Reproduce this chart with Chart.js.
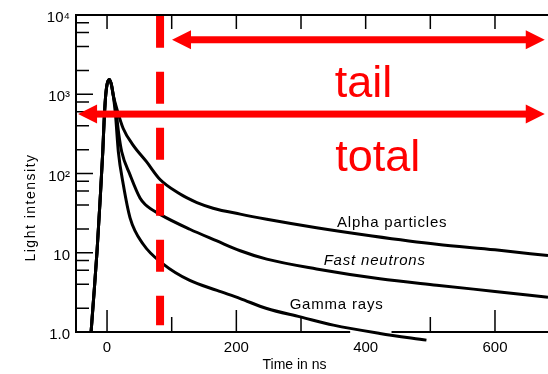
<!DOCTYPE html>
<html>
<head>
<meta charset="utf-8">
<script src="https://cdn.jsdelivr.net/npm/chart.js@4.4.0/dist/chart.umd.min.js"></script>
<style>
  html, body { margin: 0; padding: 0; background: #fff; }
  #wrap { width: 548px; height: 374px; }
</style>
</head>
<body>
<div id="wrap"><canvas id="decayChart"></canvas></div>
<script>
// Pulse shapes (time in ns, light intensity on a log axis)
const alphaTime = [-24.7, -21, -15.5, -10.8, -6.6, -4.6, -2.3, 0, 3.5, 6.5, 9.7, 16, 25, 40, 61, 82, 113, 123, 139, 164, 206, 247, 324, 410, 510, 600, 682];
const alphaIntensity = [1, 2.5, 10.3, 45, 188, 447, 917, 1330, 1540, 1350, 964, 620, 370, 230, 141, 84, 55, 49.5, 43, 36.5, 30.7, 26.5, 20.7, 16.3, 12.8, 10.9, 9.2];

const neutronTime = [-24.7, -21, -15.5, -10.8, -6.6, -4.6, -2.3, 0, 3.5, 6.5, 9.7, 14, 18, 22.7, 35.6, 51, 59, 82, 128, 170, 206, 247, 324, 422, 510, 600, 682];
const neutronIntensity = [1, 2.5, 10.3, 45, 188, 447, 917, 1330, 1540, 1350, 964, 600, 320, 188, 96, 49, 40.6, 30.5, 19.8, 14.1, 10.6, 8.3, 6.25, 4.7, 3.9, 3.25, 2.75];

const gammaTime = [-24.7, -21, -15.5, -10.8, -6.6, -4.6, -2.3, 0, 3.5, 6.5, 9.7, 13, 17.5, 25.2, 35.6, 56, 87, 128, 170, 206, 247, 299, 350, 422, 494];
const gammaIntensity = [1, 2.5, 10.3, 45, 188, 447, 917, 1330, 1540, 1350, 964, 560, 188, 72, 27.6, 12.8, 7.2, 4.47, 3.35, 2.64, 1.98, 1.55, 1.22, 0.96, 0.79];

// axes
const timeMin = -48;
const timeMax = 682;
const xTickValues = [0, 100, 200, 300, 400, 500, 600];
const yTickValues = [1, 2, 4, 6, 8, 10, 20, 40, 60, 80, 100, 200, 400, 600, 800, 1000, 2000, 4000, 6000, 8000, 10000];
const yTickLabels = { 1: "1.0", 10: "10", 100: "10²", 1000: "10³", 10000: "10⁴" };
const axisGap = [376, 440]; // the scan has a break in the time axis here

// red markings (data units)
const cutTime = [82, 82];
const cutLevel = [9800, 1.22];
const tailArrow = { from: 100.5, to: 677, level: 4870 };
const totalArrow = { from: -44.8, to: 677, level: 562 };
const redLabels = [
  { text: "tail", time: 352, level: 917 },
  { text: "total", time: 353, level: 106 },
];
const curveLabels = [
  { text: "Alpha particles", time: 441, level: 23.9, italic: false },
  { text: "Fast neutrons", time: 414, level: 7.9, italic: true },
  { text: "Gamma rays", time: 355, level: 2.17, italic: false },
];

const FONT = "'Liberation Sans', Arial, Helvetica, sans-serif";
const INK = "#000";
const RED = "#ff0000";

function points(xs, ys) {
  return xs.map((t, i) => ({ x: t, y: ys[i] }));
}

function curve(xs, ys) {
  return {
    data: points(xs, ys),
    borderColor: INK,
    borderWidth: 3,
    pointRadius: 0,
    cubicInterpolationMode: "monotone",
    clip: false,
    order: 1,
  };
}

function drawArrow(ctx, x0, x1, yPix) {
  const head = 19, half = 9.5, shaft = 7;
  ctx.fillRect(x0 + head - 1, yPix - shaft / 2, x1 - x0 - 2 * head + 2, shaft);
  ctx.beginPath();
  ctx.moveTo(x0, yPix);
  ctx.lineTo(x0 + head, yPix - half);
  ctx.lineTo(x0 + head, yPix + half);
  ctx.closePath();
  ctx.moveTo(x1, yPix);
  ctx.lineTo(x1 - head, yPix - half);
  ctx.lineTo(x1 - head, yPix + half);
  ctx.closePath();
  ctx.fill();
}

const decorations = {
  id: "decorations",
  afterDatasetsDraw(chart) {
    const { ctx, chartArea: a, scales: { x, y } } = chart;
    ctx.save();

    // frame
    ctx.strokeStyle = INK;
    ctx.lineWidth = 2;
    ctx.beginPath();
    ctx.moveTo(a.left - 1, a.top);
    ctx.lineTo(a.right, a.top);
    ctx.moveTo(a.left, a.top);
    ctx.lineTo(a.left, a.bottom + 1);
    ctx.moveTo(a.left - 1, a.bottom);
    ctx.lineTo(x.getPixelForValue(axisGap[0]), a.bottom);
    ctx.moveTo(x.getPixelForValue(axisGap[1]), a.bottom);
    ctx.lineTo(a.right, a.bottom);
    ctx.stroke();

    // inward ticks
    ctx.lineWidth = 1.5;
    ctx.beginPath();
    yTickValues.forEach((v) => {
      const py = y.getPixelForValue(v);
      const len = yTickLabels[v] ? 17 : 13;
      ctx.moveTo(a.left, py);
      ctx.lineTo(a.left + len, py);
    });
    xTickValues.forEach((v) => {
      const px = x.getPixelForValue(v);
      ctx.moveTo(px, a.top);
      ctx.lineTo(px, a.top + 14);
      if (v > axisGap[0] && v < axisGap[1]) return;
      ctx.moveTo(px, a.bottom);
      ctx.lineTo(px, a.bottom - (v % 200 === 0 ? 22 : 15));
    });
    ctx.stroke();

    // axis titles
    ctx.fillStyle = INK;
    ctx.textAlign = "center";
    ctx.textBaseline = "middle";
    ctx.font = "14px " + FONT;
    ctx.fillText("Time in ns", x.getPixelForValue(290), a.bottom + 33);
    ctx.save();
    ctx.translate(a.left - 45, (a.top + a.bottom) / 2 + 34);
    ctx.rotate(-Math.PI / 2);
    ctx.letterSpacing = "1.5px";
    ctx.fillText("Light intensity", 0, 0);
    ctx.restore();

    // curve labels
    ctx.letterSpacing = "0.8px";
    curveLabels.forEach((l) => {
      ctx.font = (l.italic ? "italic " : "") + "15px " + FONT;
      ctx.fillText(l.text, x.getPixelForValue(l.time), y.getPixelForValue(l.level));
    });
    ctx.letterSpacing = "0px";

    // red arrows and words
    ctx.fillStyle = RED;
    [tailArrow, totalArrow].forEach((ar) => {
      drawArrow(ctx, x.getPixelForValue(ar.from), x.getPixelForValue(ar.to), y.getPixelForValue(ar.level));
    });
    ctx.font = "45px " + FONT;
    ctx.textAlign = "left";
    ctx.textBaseline = "alphabetic";
    redLabels.forEach((l) => {
      ctx.fillText(l.text, x.getPixelForValue(l.time), y.getPixelForValue(l.level));
    });

    ctx.restore();
  },
};

const tickFont = { family: FONT, size: 15 };

new Chart(document.getElementById("decayChart"), {
  type: "line",
  data: {
    datasets: [
      {
        data: points(cutTime, cutLevel),
        borderColor: RED,
        borderWidth: 8,
        borderDash: [32, 24],
        borderCapStyle: "butt",
        pointRadius: 0,
        order: 0,
      },
      curve(alphaTime, alphaIntensity),
      curve(neutronTime, neutronIntensity),
      curve(gammaTime, gammaIntensity),
    ],
  },
  options: {
    responsive: true,
    maintainAspectRatio: false,
    animation: false,
    layout: { padding: { top: 12, left: 0, right: 0, bottom: 0 } },
    plugins: { legend: { display: false }, tooltip: { enabled: false } },
    scales: {
      x: {
        type: "linear",
        min: timeMin,
        max: timeMax,
        afterBuildTicks: (s) => { s.ticks = xTickValues.map((v) => ({ value: v })); },
        afterFit: (s) => { s.height = 42; },
        grid: { display: false, drawTicks: false },
        border: { display: false },
        ticks: {
          autoSkip: false,
          maxRotation: 0,
          padding: 7,
          color: INK,
          font: tickFont,
          callback: (v) => (v % 200 === 0 ? String(v) : ""),
        },
      },
      y: {
        type: "logarithmic",
        min: 1,
        max: 10000,
        afterBuildTicks: (s) => { s.ticks = yTickValues.map((v) => ({ value: v })); },
        afterFit: (s) => { s.width = 76; },
        grid: { display: false, drawTicks: false },
        border: { display: false },
        ticks: {
          autoSkip: false,
          padding: 6,
          labelOffset: 3,
          color: INK,
          font: tickFont,
          callback: (v) => yTickLabels[v] || "",
        },
      },
    },
  },
  plugins: [decorations],
});
</script>
</body>
</html>
